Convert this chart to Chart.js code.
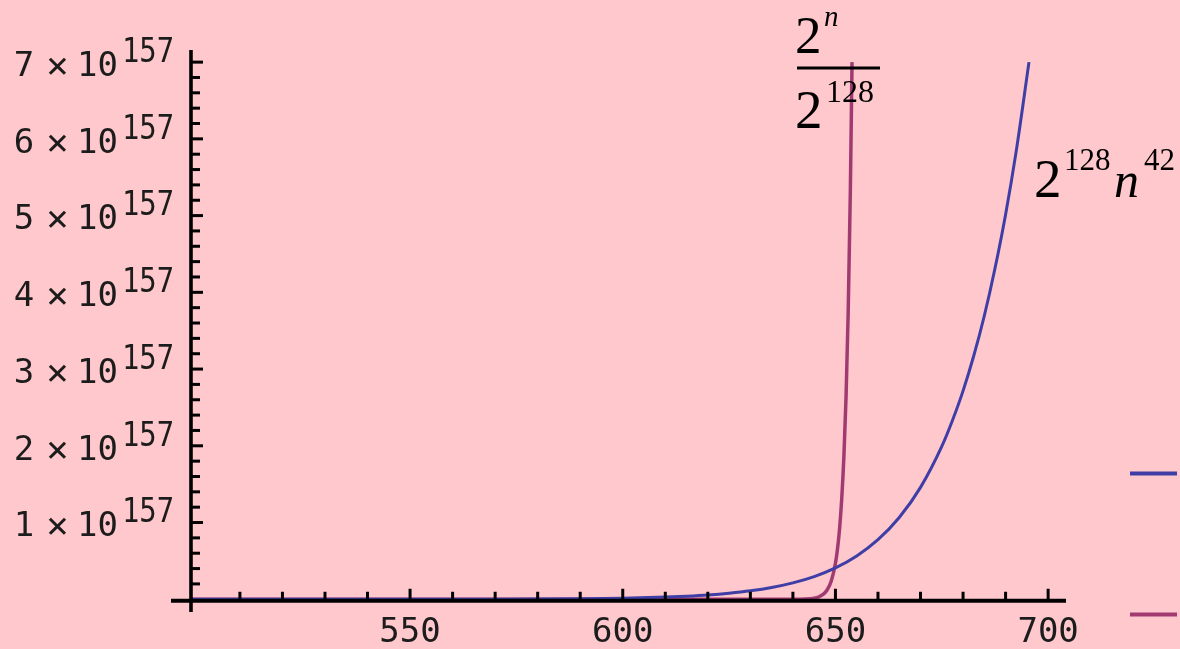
<!DOCTYPE html>
<html>
<head>
<meta charset="utf-8">
<script src="https://cdn.jsdelivr.net/npm/chart.js@4.4.1/dist/chart.umd.min.js"></script>
<style>
html,body{margin:0;padding:0;background:#ffc8cc;}
#wrap{position:relative;width:1180px;height:649px;}
</style>
</head>
<body>
<div id="wrap"><canvas id="c"></canvas></div>
<script>
// ---- data (values in units of 10^157) ----
const blueN = [498.5, 550, 570, 580, 590, 600, 610, 615, 620, 625, 630, 635, 640, 645, 650, 655, 660, 665, 670, 675, 677.5, 680, 682.5, 685, 687.5, 690, 692.5, 695.5];
const blueV = [0, 0.0004, 0.0016, 0.0034, 0.007, 0.014, 0.028, 0.040, 0.056, 0.079, 0.110, 0.153, 0.213, 0.295, 0.408, 0.564, 0.776, 1.065, 1.458, 1.992, 2.33, 2.716, 3.17, 3.695, 4.31, 5.015, 5.84, 7.0];
const redN = [498.5, 600, 630, 640, 643, 645, 646, 647, 648, 649, 650, 650.5, 651, 651.5, 652, 652.5, 653, 653.5, 653.9];
const redV = [0, 0, 0, 0.0005, 0.004, 0.015, 0.029, 0.059, 0.117, 0.234, 0.469, 0.663, 0.938, 1.33, 1.88, 2.65, 3.75, 5.31, 7.0];

const xMajorTicks = [550, 600, 650, 700];
const xMinorTicks = [510, 520, 530, 540, 560, 570, 580, 590, 610, 620, 630, 640, 660, 670, 680, 690];
const yMajorTicks = [1, 2, 3, 4, 5, 6, 7];
const yMajorCoef = ['1', '2', '3', '4', '5', '6', '7'];
const yExponent = '157';
const yMinorTicks = [0.2, 0.4, 0.6, 0.8, 1.2, 1.4, 1.6, 1.8, 2.2, 2.4, 2.6, 2.8, 3.2, 3.4, 3.6, 3.8,
                     4.2, 4.4, 4.6, 4.8, 5.2, 5.4, 5.6, 5.8, 6.2, 6.4, 6.6, 6.8];
const axisOriginN = 498.5;
const seriesNames = ['2^128 n^42', '2^n / 2^128'];
const seriesColors = ['rgb(62,62,166)', 'rgb(162,58,114)'];

const toPts = (xs, ys) => xs.map((v, i) => ({x: v, y: ys[i]}));

const mmaAxes = {
  id: 'mmaAxes',
  afterDatasetsDraw(chart) {
    const {ctx, scales: {x, y}} = chart;
    const x0 = x.getPixelForValue(axisOriginN);
    const y0 = y.getPixelForValue(0);
    ctx.save();
    ctx.strokeStyle = '#000';
    ctx.lineCap = 'butt';
    // axes
    ctx.lineWidth = 4;
    ctx.beginPath(); ctx.moveTo(x.left, y0 + 1.5); ctx.lineTo(x.right, y0 + 1.5); ctx.stroke();
    ctx.lineWidth = 3.6;
    ctx.beginPath(); ctx.moveTo(x0, y.top); ctx.lineTo(x0, y.bottom); ctx.stroke();
    // ticks
    ctx.lineWidth = 3;
    const vt = (p, len) => { ctx.beginPath(); ctx.moveTo(p, y0 + 1.5); ctx.lineTo(p, y0 + 1.5 - len); ctx.stroke(); };
    const ht = (p, len) => { ctx.beginPath(); ctx.moveTo(x0, p); ctx.lineTo(x0 + len, p); ctx.stroke(); };
    xMajorTicks.forEach(v => vt(x.getPixelForValue(v), 12));
    xMinorTicks.forEach(v => vt(x.getPixelForValue(v), 9));
    yMajorTicks.forEach(v => ht(y.getPixelForValue(v), 12));
    yMinorTicks.forEach(v => ht(y.getPixelForValue(v), 9));

    // y tick labels  "k × 10^157"
    ctx.fillStyle = '#1c1c1c';
    ctx.textAlign = 'center';
    ctx.textBaseline = 'middle';
    yMajorTicks.forEach((v, i) => {
      const py = y.getPixelForValue(v) + 5;
      ctx.font = '34px "DejaVu Sans Mono"';
      ctx.fillText(yMajorCoef[i], x0 - 167, py);
      ctx.fillText('10', x0 - 93.5, py);
      ctx.font = '38px "DejaVu Sans Mono"';
      ctx.fillText('\u00d7', x0 - 133.5, py + 1);
      ctx.save();
      ctx.translate(x0 - 43, py - 14);
      ctx.scale(0.85, 1);
      ctx.font = '34px "DejaVu Sans Mono"';
      ctx.fillText(yExponent, 0, 0);
      ctx.restore();
    });

    // curve labels
    ctx.fillStyle = '#000';
    ctx.textAlign = 'left';
    ctx.textBaseline = 'alphabetic';
    const serif = (sz, it) => (it ? 'italic ' : '') + sz + 'px "Liberation Serif"';
    ctx.font = serif(53); ctx.fillText('2', 795, 53);
    ctx.font = serif(29, true); ctx.fillText('n', 824, 26);
    ctx.fillRect(797, 66.5, 83, 3);
    ctx.font = serif(55); ctx.fillText('2', 795, 128);
    ctx.font = serif(32); ctx.fillText('128', 826, 102);

    ctx.font = serif(55); ctx.fillText('2', 1034, 197);
    ctx.font = serif(31); ctx.fillText('128', 1064, 170);
    ctx.font = serif(50, true); ctx.fillText('n', 1114, 197);
    ctx.font = serif(31); ctx.fillText('42', 1144, 170);

    // legend swatches (text cut off in the original)
    ctx.lineWidth = 4;
    chart.data.datasets.forEach((ds, i) => {
      const ly = i === 0 ? 473.5 : 614.5;
      ctx.strokeStyle = ds.borderColor;
      ctx.beginPath(); ctx.moveTo(1130, ly); ctx.lineTo(1177, ly); ctx.stroke();
    });
    ctx.restore();
  }
};

new Chart(document.getElementById('c'), {
  type: 'scatter',
  data: {
    datasets: [
      {label: seriesNames[0], data: toPts(blueN, blueV), showLine: true, borderColor: seriesColors[0],
       borderWidth: 3, pointRadius: 0, cubicInterpolationMode: 'monotone'},
      {label: seriesNames[1], data: toPts(redN, redV), showLine: true, borderColor: seriesColors[1],
       borderWidth: 3.5, pointRadius: 0, cubicInterpolationMode: 'monotone'}
    ]
  },
  options: {
    responsive: true,
    maintainAspectRatio: false,
    animation: false,
    events: [],
    layout: {padding: {left: 171, right: 114, top: 50, bottom: 0}},
    plugins: {legend: {display: false}, tooltip: {enabled: false}},
    scales: {
      x: {
        type: 'linear', min: 493.8, max: 704.2,
        grid: {display: false, drawTicks: false},
        border: {display: false},
        afterBuildTicks: s => { s.ticks = xMajorTicks.map(v => ({value: v})); },
        afterFit: s => { s.height = 37; },
        ticks: {autoSkip: false, maxRotation: 0, padding: 1, color: '#1c1c1c',
                font: {family: '"DejaVu Sans Mono"', size: 34}}
      },
      y: {
        type: 'linear', min: -0.166, max: 7.158, display: false
      }
    }
  },
  plugins: [mmaAxes]
});
</script>
</body>
</html>
